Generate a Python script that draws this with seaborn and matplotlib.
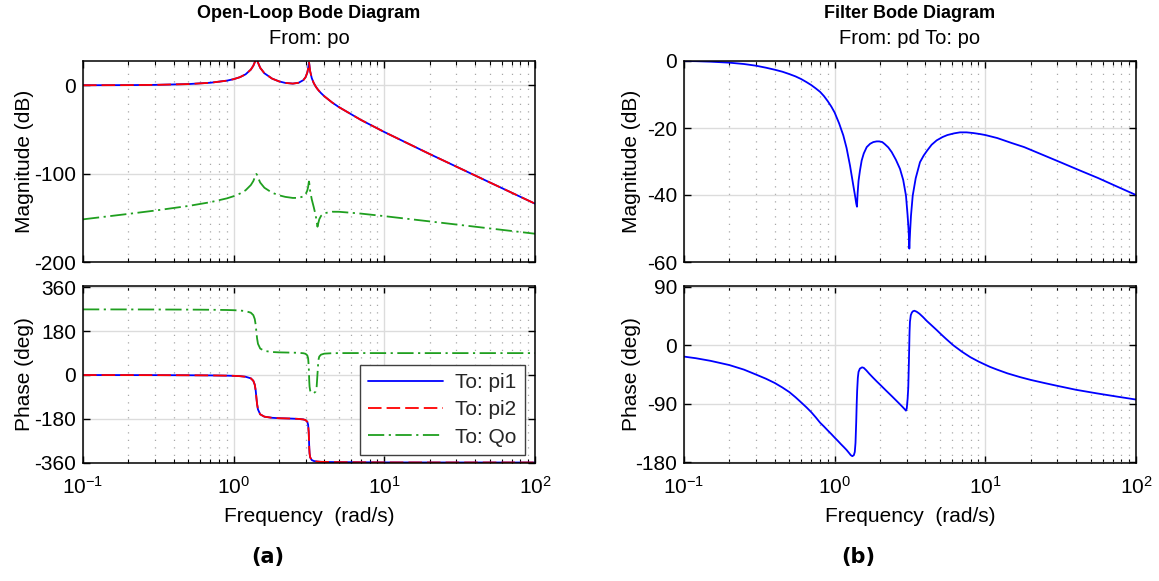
import numpy as np
import matplotlib
matplotlib.use("Agg")
import matplotlib.pyplot as plt
import seaborn as sns
from matplotlib.ticker import LogLocator, NullFormatter

# ---------------- open-loop response (from po) ----------------
w_plant = [0.1, 0.2, 0.3, 0.5, 0.7, 0.9, 1.0, 1.1, 1.2, 1.3, 1.35, 1.38, 1.40, 1.414,
           1.43, 1.45, 1.5, 1.6, 1.8, 2.0, 2.2, 2.47, 2.7, 2.9, 3.0, 3.08, 3.12, 3.15,
           3.162, 3.175, 3.19, 3.22, 3.3, 3.4, 3.5, 3.55, 3.6, 3.65, 3.7, 3.8, 4.0,
           4.5, 5.0, 7.0, 10.0, 20.0, 50.0, 100.0]

pi1_mag_db = [0.05, 0.21, 0.48, 1.38, 2.88, 5.24, 6.94, 9.19, 12.41, 17.8, 22.1, 26.0,
              28.95, 29.9, 28.7, 25.7, 19.8, 13.6, 7.55, 4.44, 2.7, 1.94, 2.89, 5.85,
              9.12, 14.3, 18.85, 24.4, 25.7, 24.17, 20.97, 15.7, 8.05, 2.55, -1.23,
              -2.8, -4.21, -5.49, -6.68, -8.83, -12.46, -19.42, -24.73, -39.24,
              -52.88, -77.8, -109.85, -133.97]

pi1_phase_deg = [-0.2, -0.4, -0.6, -1.1, -1.7, -2.7, -3.5, -4.8, -7.3, -13.8, -23.8,
                 -39.7, -63.7, -90.5, -119.5, -141.8, -161.8, -171.5, -176.1, -177.8,
                 -178.5, -179.5, -180.7, -182.8, -185.6, -192.5, -204.4, -237.8,
                 -268.7, -300.2, -322.0, -339.0, -350.0, -353.7, -355.1, -355.7,
                 -356.1, -356.4, -356.7, -357.2, -357.5, -358.2, -358.5, -359.1,
                 -359.6, -359.8, -359.9, -360.0]

pi2_mag_db = [0.05, 0.21, 0.48, 1.38, 2.88, 5.24, 6.94, 9.19, 12.41, 17.8, 22.1, 26.0,
              28.95, 29.9, 28.7, 25.7, 19.8, 13.6, 7.55, 4.44, 2.7, 1.94, 2.89, 5.85,
              9.12, 14.3, 18.85, 24.4, 25.7, 24.17, 20.97, 15.7, 8.05, 2.55, -1.23,
              -2.8, -4.21, -5.49, -6.68, -8.83, -12.46, -19.42, -24.73, -39.24,
              -52.88, -77.8, -109.85, -133.97]

pi2_phase_deg = [-0.2, -0.4, -0.6, -1.1, -1.7, -2.7, -3.5, -4.8, -7.3, -13.8, -23.8,
                 -39.7, -63.7, -90.5, -119.5, -141.8, -161.8, -171.5, -176.1, -177.8,
                 -178.5, -179.5, -180.7, -182.8, -185.6, -192.5, -204.4, -237.8,
                 -268.7, -300.2, -322.0, -339.0, -350.0, -353.7, -355.1, -355.7,
                 -356.1, -356.4, -356.7, -357.2, -357.5, -358.2, -358.5, -359.1,
                 -359.6, -359.8, -359.9, -360.0]

qo_mag_db = [-151.72, -145.56, -141.81, -136.58, -132.32, -128.01, -125.53, -122.6,
             -118.8, -112.9, -108.41, -104.33, -101.32, -100.31, -101.47, -104.38,
             -110.1, -115.97, -121.61, -124.51, -126.28, -127.5, -127.43, -125.76,
             -123.41, -119.11, -115.12, -109.96, -108.93, -110.63, -114.08, -119.89,
             -129.28, -137.92, -146.95, -153.33, -160.06, -155.63, -151.66, -147.84,
             -144.78, -143.13, -143.16, -145.22, -148.1, -154.05, -161.98, -168.0]

qo_phase_deg = [269.8, 269.6, 269.4, 268.9, 268.3, 267.3, 266.5, 265.2, 262.7, 256.2,
                246.2, 230.3, 206.3, 179.5, 150.5, 128.2, 108.7, 99.0, 94.5, 93.0, 92.5,
                91.8, 91.1, 89.5, 87.1, 80.6, 69.0, 35.9, 5.1, -26.3, -47.9, -64.5,
                -74.3, -75.1, -68.0, -53.9, 3.9, 61.4, 75.7, 83.7, 87.8, 89.6, 90.0,
                90.2, 90.0, 90.0, 90.0, 90.0]

# ---------------- filter response (from pd to po) ----------------
w_filter_mag = [0.1, 0.12, 0.15, 0.2, 0.25, 0.3, 0.35, 0.4, 0.45, 0.5, 0.55, 0.6, 0.65,
                0.7, 0.75, 0.8, 0.85, 0.9, 0.95, 1.0, 1.07, 1.141, 1.2, 1.264, 1.30,
                1.33, 1.365, 1.39, 1.406, 1.42, 1.44, 1.472, 1.511, 1.56, 1.632, 1.72,
                1.805, 1.9, 1.978, 2.07, 2.15, 2.27, 2.391, 2.55, 2.714, 2.85, 2.974,
                3.05, 3.1, 3.13, 3.17, 3.21, 3.296, 3.45, 3.684, 3.9, 4.1, 4.4, 4.75,
                5.2, 5.6, 6.2, 6.79, 7.5, 8.3, 9.2, 10.0, 12.0, 15.0, 18.1, 24.0,
                31.8, 42.0, 55.8, 75.0, 100.0]

filter_mag_db = [0.0, -0.05, -0.2, -0.5, -0.9, -1.4, -2.0, -2.6, -3.2, -3.9, -4.6,
                 -5.4, -6.3, -7.2, -8.2, -9.2, -10.5, -12.0, -13.6, -15.4, -18.6,
                 -22.2, -26.0, -31.2, -34.5, -37.2, -40.2, -42.5, -43.5, -39.5, -35.8,
                 -32.7, -29.7, -27.6, -25.7, -24.7, -24.2, -24.0, -24.0, -24.2, -24.8,
                 -25.8, -27.2, -29.5, -32.2, -35.5, -40.2, -46.2, -51.0, -56.0, -50.5,
                 -46.2, -40.2, -35.0, -30.2, -28.2, -26.8, -25.0, -23.7, -22.7, -22.1,
                 -21.6, -21.3, -21.3, -21.5, -21.8, -22.1, -23.0, -24.5, -25.7, -28.0,
                 -30.3, -32.6, -34.9, -37.5, -40.0]

w_filter_phase = [0.1, 0.12, 0.15, 0.2, 0.25, 0.3, 0.35, 0.4, 0.45, 0.5, 0.55, 0.6,
                  0.65, 0.7, 0.75, 0.8, 0.85, 0.9, 0.95, 1.0, 1.05, 1.1, 1.15, 1.2,
                  1.25, 1.28, 1.31, 1.34, 1.36, 1.375, 1.39, 1.40, 1.41, 1.425, 1.44,
                  1.47, 1.52, 1.56, 1.62, 1.7, 1.8, 1.9, 2.0, 2.2, 2.4, 2.6, 2.8, 2.92,
                  2.97, 3.01, 3.05, 3.08, 3.11, 3.14, 3.16, 3.2, 3.25, 3.3, 3.38, 3.5,
                  3.65, 3.85, 4.1, 4.4, 4.75, 5.1, 5.5, 6.12, 7.0, 7.93, 9.0, 10.0,
                  10.74, 12.0, 14.0, 17.0, 20.0, 25.0, 30.0, 40.0, 55.0, 75.0, 100.0]

filter_phase_deg = [-17.5, -20.0, -24.0, -30.5, -37.5, -45.0, -51.5, -58.0, -65.0,
                    -72.0, -80.0, -88.0, -95.5, -103.0, -111.0, -119.0, -125.0,
                    -131.0, -136.5, -142.0, -147.0, -152.0, -156.5, -161.0, -166.0,
                    -169.0, -170.5, -169.0, -164.0, -150.0, -118.0, -91.0, -70.0,
                    -50.0, -41.0, -36.0, -34.0, -34.8, -38.5, -44.0, -50.0, -55.5,
                    -60.5, -70.0, -78.5, -86.5, -94.0, -98.5, -100.5, -97.0, -82.0,
                    -65.0, -25.0, 20.0, 36.0, 46.0, 50.0, 52.0, 53.0, 51.5, 48.5, 43.5,
                    37.0, 30.5, 23.4, 16.5, 9.5, 0.0, -10.0, -18.2, -25.0, -30.0,
                    -33.3, -37.6, -43.2, -49.0, -53.3, -58.4, -62.4, -68.5, -74.0,
                    -79.0, -83.5]

BLUE = "#0000ff"
RED = "#ff0000"
GREEN = "#1f9f1f"

sns.set_theme(style="ticks")
plt.rcParams["font.family"] = ["Liberation Sans", "DejaVu Sans"]
plt.rcParams["mathtext.default"] = "regular"
plt.rcParams["axes.unicode_minus"] = False

FS = 15

W, H = 1159, 581
fig = plt.figure(figsize=(W / 100, H / 100), dpi=100)
fig.patch.set_facecolor("white")


def box(left, top, right, bottom):
    return [left / W, 1 - bottom / H, (right - left) / W, (bottom - top) / H]


ax_m1 = fig.add_axes(box(83, 61, 535, 262))
ax_p1 = fig.add_axes(box(83, 286, 535, 463))
ax_m2 = fig.add_axes(box(684, 61, 1136, 262))
ax_p2 = fig.add_axes(box(684, 286, 1136, 463))

LW = 1.3
DASH = (0, (7.5, 2.8))
DASHDOT = (0, (9, 2.5, 1.2, 2.5))

# open-loop magnitude
sns.lineplot(x=w_plant, y=pi1_mag_db, ax=ax_m1, color=BLUE, lw=LW, legend=False, estimator=None)
sns.lineplot(x=w_plant, y=pi2_mag_db, ax=ax_m1, color=RED, lw=LW, linestyle=DASH, legend=False, estimator=None)
sns.lineplot(x=w_plant, y=qo_mag_db, ax=ax_m1, color=GREEN, lw=LW, linestyle=DASHDOT, legend=False, estimator=None)

# open-loop phase
sns.lineplot(x=w_plant, y=pi1_phase_deg, ax=ax_p1, color=BLUE, lw=LW, label="To: pi1", estimator=None)
sns.lineplot(x=w_plant, y=pi2_phase_deg, ax=ax_p1, color=RED, lw=LW, linestyle=DASH, label="To: pi2", estimator=None)
sns.lineplot(x=w_plant, y=qo_phase_deg, ax=ax_p1, color=GREEN, lw=LW, linestyle=DASHDOT, label="To: Qo", estimator=None)

# filter
sns.lineplot(x=w_filter_mag, y=filter_mag_db, ax=ax_m2, color=BLUE, lw=LW, legend=False, estimator=None)
sns.lineplot(x=w_filter_phase, y=filter_phase_deg, ax=ax_p2, color=BLUE, lw=LW, legend=False, estimator=None)


def style_axes(ax, ylim, yticks, show_x):
    ax.set_xscale("log")
    ax.set_xlim(0.1, 100)
    ax.set_ylim(*ylim)
    ax.set_yticks(yticks)
    ax.set_yticklabels([str(v) for v in yticks])
    ax.xaxis.set_major_locator(LogLocator(base=10, numticks=10))
    ax.xaxis.set_minor_locator(LogLocator(base=10, subs=np.arange(2, 10), numticks=10))
    ax.xaxis.set_minor_formatter(NullFormatter())
    ax.set_facecolor("white")
    ax.grid(True, which="major", color="#dcdcdc", lw=1.0, ls="-")
    ax.grid(True, which="minor", axis="x", color="#a8a8a8", lw=0.9, ls=(0, (1, 5)))
    ax.grid(False, which="minor", axis="y")
    ax.set_axisbelow(True)
    ax.tick_params(which="both", direction="in", top=True, right=True,
                   labelsize=FS, color="black", labelcolor="black")
    ax.tick_params(which="major", length=5, width=1.0)
    ax.tick_params(axis="y", which="major", pad=5)
    ax.tick_params(axis="x", which="major", pad=9)
    ax.tick_params(which="minor", length=3, width=0.8)
    ax.tick_params(labelbottom=show_x)
    for s in ax.spines.values():
        s.set_visible(True)
        s.set_color("black")
        s.set_linewidth(1.1)
    ax.set_xlabel("")
    ax.set_ylabel("")


style_axes(ax_m1, (-200, 27.5), [-200, -100, 0], False)
style_axes(ax_p1, (-362, 366), [-360, -180, 0, 180, 360], True)
style_axes(ax_m2, (-60, 0), [-60, -40, -20, 0], False)
style_axes(ax_p2, (-181, 91), [-180, -90, 0, 90], True)

for ax, lab, xc in [(ax_m1, "Magnitude (dB)", -0.108), (ax_p1, "Phase (deg)", -0.108),
                    (ax_m2, "Magnitude (dB)", -0.096), (ax_p2, "Phase (deg)", -0.096)]:
    ax.set_ylabel(lab, fontsize=FS, color="black")
    ax.yaxis.set_label_coords(xc, 0.5)

for ax in (ax_p1, ax_p2):
    ax.set_xlabel("Frequency  (rad/s)", fontsize=FS, color="black")
    ax.xaxis.set_label_coords(0.5, -0.25)

leg = ax_p1.legend(loc="lower right", bbox_to_anchor=(0.978, 0.045), fontsize=FS,
                   handlelength=3.6, labelspacing=0.4, borderpad=0.4,
                   fancybox=False, framealpha=1.0, edgecolor="#404040",
                   handletextpad=0.6, borderaxespad=0)
leg.get_frame().set_linewidth(1.0)

# titles
fig.text(309 / W, 1 - 13 / H, "Open-Loop Bode Diagram", ha="center", va="center",
         fontsize=13, fontweight="bold", color="black")
fig.text(309 / W, 1 - 39 / H, "From: po", ha="center", va="center", fontsize=14.5, color="black")
fig.text(910 / W, 1 - 13 / H, "Filter Bode Diagram", ha="center", va="center",
         fontsize=13, fontweight="bold", color="black")
fig.text(910 / W, 1 - 39 / H, "From: pd To: po", ha="center", va="center", fontsize=14.5, color="black")

fig.text(268 / W, 1 - 557 / H, "(a)", ha="center", va="center", fontsize=15,
         fontweight="bold", family="DejaVu Sans", color="black")
fig.text(858 / W, 1 - 557 / H, "(b)", ha="center", va="center", fontsize=15,
         fontweight="bold", family="DejaVu Sans", color="black")

fig.savefig("out.png", dpi=100, facecolor="white")
